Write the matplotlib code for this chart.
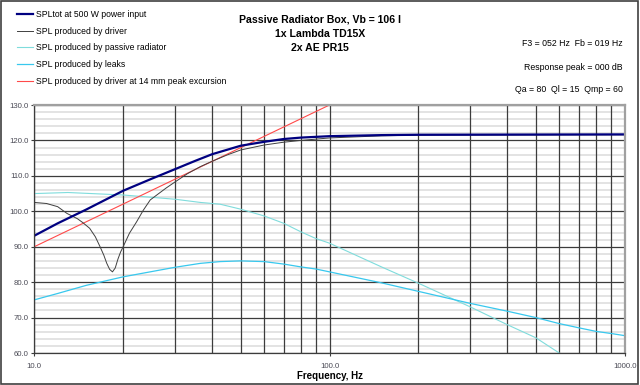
import numpy as np
import matplotlib.pyplot as plt
from matplotlib.patches import Rectangle
from matplotlib.ticker import FixedLocator, NullFormatter

plt.rcParams['font.family'] = ['Liberation Sans', 'DejaVu Sans']

# data (frequency in Hz, level in dB)
f_tot = [10, 12, 15, 20, 25, 30, 35, 40, 50, 60, 70, 80, 100, 150, 200, 1000]
spl_tot = [93.1, 96.6, 100.5, 105.8, 109.2, 111.9, 114.2, 116.1, 118.5, 119.6, 120.4, 120.8, 121.2, 121.5, 121.6, 121.7]

f_drv = [10, 11, 12, 12.9, 14, 14.6, 15.4, 16.1, 16.7, 17.2, 17.6, 18.0, 18.4, 18.8, 19.2, 19.6, 20,
         21, 22.2, 23.4, 24.7, 26, 28, 30, 33, 36.5, 40, 45, 50, 60, 70, 80, 100, 150, 200, 1000]
spl_drv = [102.5, 102.2, 101.3, 99.4, 97.9, 96.8, 95.2, 92.8, 90.0, 87.6, 85.3, 83.6, 82.9, 84.0, 86.5, 88.5, 90.0,
           93.8, 97.0, 100.3, 103.2, 104.6, 106.6, 108.3, 110.6, 112.6, 114.1, 115.9, 117.3, 118.7, 119.5, 120.0, 120.7, 121.3, 121.5, 121.6]

f_pr = [10, 13, 20, 30, 36.5, 42.6, 50, 60, 70, 80, 90, 100, 150, 200, 300, 400, 500, 600]
spl_pr = [105.0, 105.3, 104.6, 103.4, 102.5, 102.0, 100.6, 98.7, 96.6, 94.2, 92.3, 91.0, 84.3, 79.7, 73.0, 68.0, 64.3, 60.0]

f_leak = [10, 12, 15, 20, 30, 36.5, 42.6, 50, 60, 70, 80, 90, 100, 150, 200, 300, 400, 500, 600, 700, 800, 900, 1000]
spl_leak = [75.0, 76.8, 79.1, 81.5, 84.2, 85.3, 85.8, 86.0, 85.8, 85.1, 84.3, 83.7, 82.9, 79.8, 77.4, 74.0, 71.8, 70.0, 68.3, 67.1, 66.1, 65.5, 64.9]

f_exc = [10, 100]
spl_exc = [90.0, 130.0]

labels = ['SPLtot at 500 W power input', 'SPL produced by driver', 'SPL produced by passive radiator',
          'SPL produced by leaks', 'SPL produced by driver at 14 mm peak excursion']

fig = plt.figure(figsize=(6.4, 3.85), dpi=100)
ax = fig.add_axes([34.3 / 640, 1 - 353 / 385, (624.7 - 34.3) / 640, (353 - 105) / 385])

ax.set_xscale('log')
ax.set_xlim(10, 1000)
ax.set_ylim(60, 130)

# grid
ax.yaxis.set_major_locator(FixedLocator(np.arange(60, 131, 10)))
ax.yaxis.set_minor_locator(FixedLocator(np.arange(60, 131, 2)))
ax.xaxis.set_major_locator(FixedLocator([10, 100, 1000]))
ax.xaxis.set_minor_locator(FixedLocator([k * d for d in (10, 100) for k in range(2, 10)]))
ax.xaxis.set_minor_formatter(NullFormatter())
ax.set_xticklabels(['10.0', '100.0', '1000.0'])
ax.set_yticklabels(['%.1f' % v for v in np.arange(60, 131, 10)])
ax.grid(which='minor', axis='y', color='#dedede', lw=1.2)
ax.grid(which='major', axis='y', color='#3c3c3c', lw=0.9)
ax.grid(which='both', axis='x', color='#3c3c3c', lw=0.9)
ax.set_axisbelow(True)
ax.xaxis.set_zorder(0.6)  # vertical lines over the light horizontal ones
ax.tick_params(which='both', length=0)
ax.tick_params(axis='y', which='major', length=2, width=0.8, color='#3c3c3c', pad=2, labelsize=5.6, labelcolor='#4a4a55')
ax.tick_params(axis='x', which='major', length=2, width=0.8, color='#3c3c3c', pad=5, labelsize=5.6, labelcolor='#4a4a55')

for s in ('left', 'bottom'):
    ax.spines[s].set_color('#3c3c3c')
    ax.spines[s].set_linewidth(0.9)
for s in ('top', 'right'):
    ax.spines[s].set_color('#a0a0a0')
    ax.spines[s].set_linewidth(1.6)

ax.plot(f_pr, spl_pr, color='#7fdcdc', lw=0.8, label=labels[2])
ax.plot(f_leak, spl_leak, color='#38c8ee', lw=0.9, label=labels[3])
ax.plot(f_exc, spl_exc, color='#ff4a4a', lw=0.8, label=labels[4])
ax.plot(f_drv, spl_drv, color='#404040', lw=0.7, label=labels[1])
ax.plot(f_tot, spl_tot, color='#000080', lw=1.6, label=labels[0])

ax.set_xlabel('Frequency, Hz', fontsize=7, fontweight='bold', labelpad=1)

# legend in the requested order
h, l = ax.get_legend_handles_labels()
order = [l.index(s) for s in labels]
fig.legend([h[i] for i in order], [l[i] for i in order], loc='upper left',
           bbox_to_anchor=(17 / 640, 1 - 10 / 385), frameon=False, fontsize=6.2,
           handlelength=1.85, handletextpad=0.35, labelspacing=0.9, borderpad=0, borderaxespad=0)

fig.text(320 / 640, 1 - 20 / 385, 'Passive Radiator Box, Vb = 106 l', ha='center', va='center', fontsize=7.6, fontweight='bold')
fig.text(320 / 640, 1 - 34 / 385, '1x Lambda TD15X', ha='center', va='center', fontsize=7.6, fontweight='bold')
fig.text(320 / 640, 1 - 48 / 385, '2x AE PR15', ha='center', va='center', fontsize=7.6, fontweight='bold')

fig.text(623 / 640, 1 - 44 / 385, 'F3 = 052 Hz  Fb = 019 Hz', ha='right', va='center', fontsize=6.3)
fig.text(623 / 640, 1 - 68 / 385, 'Response peak = 000 dB', ha='right', va='center', fontsize=6.3)
fig.text(623 / 640, 1 - 89 / 385, 'Qa = 80  Ql = 15  Qmp = 60', ha='right', va='center', fontsize=6.3)

# outer frame
fig.patches.append(Rectangle((1 / 640, 1 / 385), 637 / 640, 383 / 385, transform=fig.transFigure,
                             fill=False, edgecolor='#404040', lw=1.2))

fig.savefig('out.png', dpi=100)
